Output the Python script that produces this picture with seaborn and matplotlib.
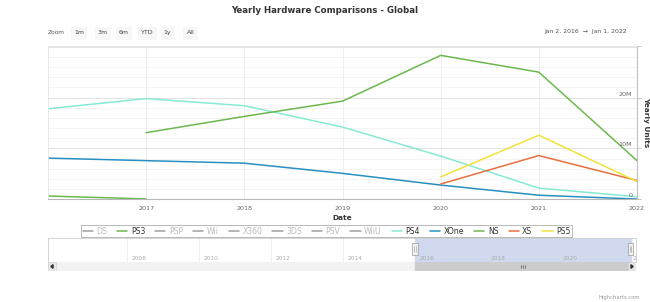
import matplotlib
matplotlib.use("Agg")
import matplotlib.pyplot as plt
import seaborn as sns
import pandas as pd
import numpy as np
from matplotlib.lines import Line2D
from matplotlib.patches import Rectangle, Polygon

# ---------------- data (millions of units) ----------------
years = [2016, 2017, 2018, 2019, 2020, 2021, 2022]
ps3 = [0.65, 0.07, None, None, None, None, None]
ps4 = [17.8, 19.8, 18.4, 14.2, 8.5, 2.2, 0.5]
xone = [8.1, 7.6, 7.1, 5.1, 2.8, 0.8, 0.05]
ns = [None, 13.1, 16.3, 19.3, 28.3, 25.0, 7.6]
xs = [None, None, None, None, 3.0, 8.6, 3.7]
ps5 = [None, None, None, None, 4.4, 12.6, 3.5]

legend_series = ["DS", "PS3", "PSP", "Wii", "X360", "3DS", "PSV", "WiiU",
                 "PS4", "XOne", "NS", "XS", "PS5"]
visible_series = ["PS3", "PS4", "XOne", "NS", "XS", "PS5"]
colors = {"PS3": "#6cb84e", "PS4": "#86ead3", "XOne": "#2790c2",
          "NS": "#6cb84e", "XS": "#e8703f", "PS5": "#f0e23a"}
hidden_color = "#a0a0a0"

x_ticks = [2017, 2018, 2019, 2020, 2021, 2022]
y_ticks = [0, 10, 20]
y_tick_labels = ["0", "10M", "20M"]
nav_years = [2008, 2010, 2012, 2014, 2016, 2018, 2020]
zoom_buttons = ["1m", "3m", "6m", "YTD", "1y", "All"]

series = {"PS3": ps3, "PS4": ps4, "XOne": xone, "NS": ns, "XS": xs, "PS5": ps5}
rows = []
for name, vals in series.items():
    for y, v in zip(years, vals):
        if v is not None:
            rows.append({"year": y, "units": v, "console": name})
df = pd.DataFrame(rows)

# ---------------- figure ----------------
sns.set_style("white")
plt.rcParams["font.family"] = ["DejaVu Sans"]
W, H = 650, 302
fig = plt.figure(figsize=(W / 100, H / 100), dpi=100)
fig.patch.set_facecolor("white")

def fx(px):
    return px / W

def fy(py):
    return 1 - py / H

pl, pr, pt, pb = 48, 637, 45.7, 199.3
ax = fig.add_axes([fx(pl), fy(pb), (pr - pl) / W, (pb - pt) / H])

sns.lineplot(data=df, x="year", y="units", hue="console", palette=colors,
             hue_order=visible_series, estimator=None, legend=False,
             linewidth=1.1, ax=ax)

ax.set_xlim(2016, 2022)
ax.set_ylim(0, 30.2)

# grid
for v in np.arange(2, 31, 2):
    ax.axhline(v, color="#f2f2f2", lw=0.6, zorder=0)
for v in [10, 20, 30]:
    ax.axhline(v, color="#e3e3e3", lw=0.7, zorder=0)
for yr in x_ticks:
    ax.axvline(yr, color="#ececec", lw=0.6, zorder=0)

ax.set_xticks(x_ticks)
ax.set_xticklabels([str(t) for t in x_ticks])
ax.tick_params(axis="x", direction="out", length=3, width=0.6,
               colors="#c8c8c8", labelcolor="#666666", labelsize=4.6, pad=2)
ax.set_yticks([])
for s in ["top", "left"]:
    ax.spines[s].set_color("#e3e3e3")
    ax.spines[s].set_linewidth(0.6)
ax.spines["bottom"].set_color("#b8b8b8")
ax.spines["bottom"].set_linewidth(0.8)
ax.spines["right"].set_color("#c0c0c0")
ax.spines["right"].set_linewidth(0.8)

ytr = ax.get_yaxis_transform()
for v, lab in zip(y_ticks, y_tick_labels):
    ax.text(0.992, v + 0.7, lab, transform=ytr, ha="right", va="center",
            fontsize=4.6, color="#666666")
    ax.plot([1.0, 1.006], [v, v], transform=ytr, color="#c0c0c0", lw=0.6,
            clip_on=False)
ax.plot([1.0, 1.006], [30.2, 30.2], transform=ytr, color="#c0c0c0", lw=0.6,
        clip_on=False)

ax.set_xlabel("Date", fontsize=5.3, fontweight="bold", color="#333333")
ax.xaxis.set_label_coords(0.5, -0.105)
ax.set_ylabel("")
fig.text(fx(646), fy(122.5), "Yearly Units", rotation=270, ha="center",
         va="center", fontsize=5.3, fontweight="bold", color="#333333")

# title
fig.text(0.5, fy(10.5), "Yearly Hardware Comparisons - Global", ha="center",
         va="center", fontsize=6.2, fontweight="bold", color="#333333")

# range selector
fig.text(fx(48), fy(32.5), "Zoom", ha="left", va="center", fontsize=4.2,
         color="#555555")
btn_centers = [79, 102.5, 124, 147, 167.5, 190.5]
btn_widths = [16, 16, 16, 19, 14, 15]
for lab, cx, bw in zip(zoom_buttons, btn_centers, btn_widths):
    fig.patches.append(Rectangle((fx(cx - bw / 2), fy(39.5)), bw / W, 13 / H,
                                 transform=fig.transFigure, facecolor="#f7f7f7",
                                 edgecolor="none", zorder=0))
    fig.text(fx(cx), fy(32.5), lab, ha="center", va="center", fontsize=4.5,
             color="#444444")
fig.text(fx(627), fy(32), "Jan 2, 2016  \u2192  Jan 1, 2022", ha="right",
         va="center", fontsize=4.4, color="#555555")

# legend
handles = []
for name in legend_series:
    c = colors[name] if name in visible_series else hidden_color
    handles.append(Line2D([0], [0], color=c, lw=1.1))
leg = fig.legend(handles, legend_series, loc="center",
                 bbox_to_anchor=(fx(326.5), fy(231)), ncol=len(legend_series),
                 fontsize=5.6, handlelength=1.3, handletextpad=0.45,
                 columnspacing=1.3, frameon=True, fancybox=False,
                 borderpad=0.25, borderaxespad=0)
leg.get_frame().set_edgecolor("#999999")
leg.get_frame().set_linewidth(0.6)
for t, name in zip(leg.get_texts(), legend_series):
    t.set_color("#333333" if name in visible_series else "#bbbbbb")

# navigator
nav = fig.add_axes([fx(48), fy(262), 588 / W, 24 / H])
nx0, nx1 = 2005.8, 2022.15
nav.set_xlim(nx0, nx1)
nav.set_ylim(0, 1)
nav.set_xticks([])
nav.set_yticks([])
for s in nav.spines.values():
    s.set_color("#d0d0d0")
    s.set_linewidth(0.6)
for yr in nav_years:
    nav.axvline(yr, color="#ececec", lw=0.6, zorder=0)
    nav.text(yr + 0.12, 0.16, str(yr), ha="left", va="center", fontsize=4.2,
             color="#aaaaaa")
nav.text(2022.05, 0.16, "2..", ha="left", va="center", fontsize=4.2,
         color="#aaaaaa", clip_on=False)
nav.axvspan(2016, 2022, color="#d1d9ee", zorder=1)
for hx in [2016, 2022]:
    nav.add_patch(Rectangle((hx - 0.075, 0.3), 0.15, 0.48, facecolor="#f2f2f2",
                            edgecolor="#999999", lw=0.5, zorder=3))
    nav.plot([hx - 0.02, hx - 0.02], [0.42, 0.66], color="#999999", lw=0.4,
             zorder=4)
    nav.plot([hx + 0.02, hx + 0.02], [0.42, 0.66], color="#999999", lw=0.4,
             zorder=4)

# scrollbar
sb = fig.add_axes([fx(48), fy(271), 588 / W, 9 / H])
sb.set_xlim(nx0, nx1)
sb.set_ylim(0, 1)
sb.set_xticks([])
sb.set_yticks([])
for s in sb.spines.values():
    s.set_visible(False)
sb.set_facecolor("#f2f2f2")
sb.axvspan(2016, 2022, color="#cccccc", zorder=1)
bw_yr = 8 / 36
sb.add_patch(Rectangle((nx0, 0), bw_yr, 1, facecolor="#e6e6e6",
                       edgecolor="#cccccc", lw=0.4, zorder=2))
sb.add_patch(Rectangle((nx1 - bw_yr, 0), bw_yr, 1, facecolor="#e6e6e6",
                       edgecolor="#cccccc", lw=0.4, zorder=2))
sb.add_patch(Polygon([[nx0 + 0.08, 0.5], [nx0 + 0.14, 0.7], [nx0 + 0.14, 0.3]],
                     closed=True, color="#333333", zorder=3))
sb.add_patch(Polygon([[nx1 - 0.08, 0.5], [nx1 - 0.14, 0.7], [nx1 - 0.14, 0.3]],
                     closed=True, color="#333333", zorder=3))
for dx in [-0.05, 0, 0.05]:
    sb.plot([2019 + dx, 2019 + dx], [0.35, 0.65], color="#333333", lw=0.4,
            zorder=3)

fig.text(fx(640), fy(297), "Highcharts.com", ha="right", va="center",
         fontsize=3.8, color="#999999")

fig.savefig("out.png", dpi=100)
